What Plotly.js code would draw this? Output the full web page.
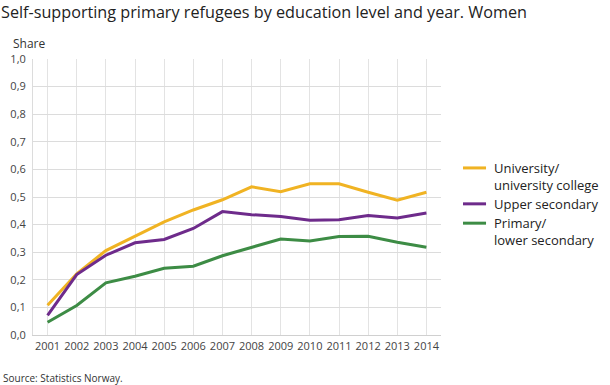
<!DOCTYPE html>
<html>
<head>
<meta charset="utf-8">
<script src="https://cdn.plot.ly/plotly-3.0.1.min.js"></script>
<style>
html,body{margin:0;padding:0;background:#fff;}
#chart{width:610px;height:385px;}
</style>
</head>
<body>
<div id="chart"></div>
<script>
var years = ["2001","2002","2003","2004","2005","2006","2007","2008","2009","2010","2011","2012","2013","2014"];
var university = [0.108,0.222,0.306,0.358,0.410,0.453,0.490,0.537,0.519,0.548,0.548,0.517,0.488,0.517];
var upperSecondary = [0.071,0.219,0.289,0.334,0.346,0.386,0.447,0.436,0.429,0.416,0.418,0.433,0.424,0.442];
var primary = [0.046,0.107,0.189,0.213,0.242,0.249,0.287,0.317,0.348,0.341,0.357,0.358,0.336,0.318];
var seriesNames = ["University/<br>university college","Upper secondary","Primary/<br>lower secondary"];
var seriesColors = ["#f0b323","#6e2b8b","#3d8c45"];
var yTicks = [0,0.1,0.2,0.3,0.4,0.5,0.6,0.7,0.8,0.9,1.0];

var seriesData = [university, upperSecondary, primary];
var traces = seriesData.map(function(vals, i){
  return {
    x: years, y: vals, name: seriesNames[i], type: "scatter", mode: "lines",
    line: {color: seriesColors[i], width: 3}, hoverinfo: "skip", showlegend: false
  };
});

var W = 610, H = 385;
var L = 33.3, R = 441, T = 59, B = 335.3;
var pw = R - L, ph = B - T;
function px(x){ return (x - L) / pw; }
function py(y){ return (B - y) / ph; }

var annotations = [
  {text: "Share", xref: "paper", yref: "paper", x: px(11), y: py(43),
   xanchor: "left", yanchor: "middle", showarrow: false,
   font: {size: 12, color: "#333"}},
  {text: "Source: Statistics Norway.", xref: "paper", yref: "paper", x: px(1), y: py(378),
   xanchor: "left", yanchor: "middle", showarrow: false,
   font: {size: 10, color: "#333"}}
];
var shapes = [];

// legend (built from series names/colours)
var legendCenter = [176.5, 204, 231.8];
var lineStep = 16.9;
seriesNames.forEach(function(name, i){
  var n = name.split("<br>").length;
  var firstLine = legendCenter[i] - (n - 1) * lineStep / 2;
  shapes.push({type: "line", xref: "paper", yref: "paper",
    x0: px(463), x1: px(486), y0: py(firstLine), y1: py(firstLine),
    line: {color: seriesColors[i], width: 3}});
  annotations.push({text: name, xref: "paper", yref: "paper",
    x: px(492), y: py(legendCenter[i]), align: "left",
    xanchor: "left", yanchor: "middle", showarrow: false,
    font: {size: 13, color: "#222"}});
});

var layout = {
  width: W, height: H,
  margin: {l: L, r: W - R, t: T, b: H - B, pad: 0, autoexpand: false},
  paper_bgcolor: "#fff", plot_bgcolor: "#fff",
  separators: ", ",
  font: {family: "Open Sans, sans-serif", color: "#333", size: 11},
  showlegend: false,
  title: {
    text: "Self-supporting primary refugees by education level and year. Women",
    font: {size: 16.2, color: "#222"},
    xref: "container", yref: "container",
    x: 1 / W, xanchor: "left", y: 1 - 12 / H, yanchor: "middle"
  },
  xaxis: {
    type: "category", range: [-0.5, 13.5], fixedrange: true,
    showgrid: true, gridcolor: "#e3e3e3", gridwidth: 1,
    showline: true, linecolor: "#d0d0d0", linewidth: 1,
    ticks: "", tickfont: {size: 11, color: "#444"}, ticklabelstandoff: 1,
    zeroline: false
  },
  yaxis: {
    range: [0, 1], tickvals: yTicks, tickformat: ".1f", fixedrange: true,
    showgrid: true, gridcolor: "#dcdcdc", gridwidth: 1,
    showline: true, linecolor: "#dcdcdc", linewidth: 1,
    ticks: "", tickfont: {size: 11, color: "#444"}, ticklabelstandoff: 4,
    zeroline: false
  },
  annotations: annotations,
  shapes: shapes
};

Plotly.newPlot("chart", traces, layout, {displayModeBar: false, staticPlot: true});
</script>
</body>
</html>
